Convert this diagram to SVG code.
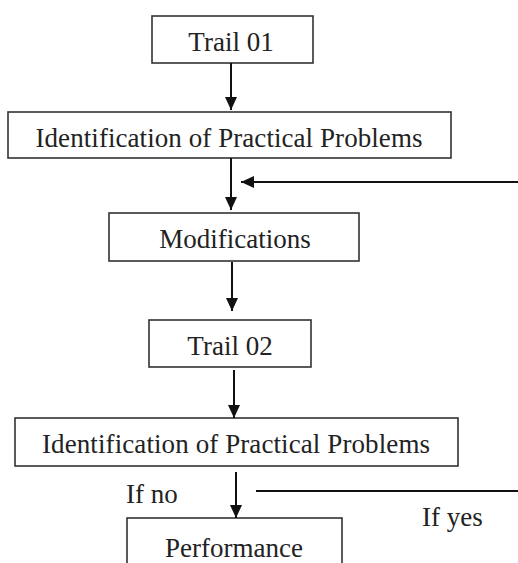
<svg xmlns="http://www.w3.org/2000/svg" width="518" height="563" viewBox="0 0 518 563">
<defs>
<style>
.box{fill:#fff;stroke:#333;stroke-width:1.6}
.t{font-family:"Liberation Serif","Times New Roman",serif;font-size:27px;fill:#222;text-anchor:middle}
.l{font-family:"Liberation Serif","Times New Roman",serif;font-size:27px;fill:#222}
.c{stroke:#111;stroke-width:2;fill:none}
</style>
<marker id="ah" markerUnits="userSpaceOnUse" markerWidth="14" markerHeight="14" viewBox="0 0 14 14" refX="13" refY="7" orient="auto">
<path d="M0,1 L13,7 L0,13 Z" fill="#111"/>
</marker>
</defs>
<rect width="518" height="563" fill="#fff"/>
<g id="trail01"><rect class="box" x="152" y="16" width="161" height="47"/><text class="t" x="231" y="51">Trail 01</text></g>
<g id="identify1"><rect class="box" x="8" y="112" width="443" height="46"/><text class="t" x="229" y="147" textLength="387">Identification of Practical Problems</text></g>
<g id="modifications"><rect class="box" x="109" y="213" width="250" height="48"/><text class="t" x="235" y="248">Modifications</text></g>
<g id="trail02"><rect class="box" x="149" y="320" width="162" height="47"/><text class="t" x="230" y="355">Trail 02</text></g>
<g id="identify2"><rect class="box" x="15" y="418" width="443" height="48"/><text class="t" x="236" y="453" textLength="388">Identification of Practical Problems</text></g>
<g id="performance"><rect class="box" x="127" y="518" width="215" height="60"/><text class="t" x="234" y="557">Performance</text></g>
<g id="connectors">
<line class="c" x1="231" y1="63" x2="231" y2="110" marker-end="url(#ah)"/>
<line class="c" x1="231" y1="158" x2="231" y2="210" marker-end="url(#ah)"/>
<line class="c" x1="518" y1="182" x2="241" y2="182" marker-end="url(#ah)"/>
<line class="c" x1="232" y1="262" x2="232" y2="311" marker-end="url(#ah)"/>
<line class="c" x1="234" y1="370" x2="234" y2="418" marker-end="url(#ah)"/>
<line class="c" x1="236" y1="472" x2="236" y2="518" marker-end="url(#ah)"/>
<line class="c" x1="256" y1="491" x2="518" y2="491"/>
<text class="l" x="126" y="503">If no</text>
<text class="l" x="422" y="526">If yes</text>
</g>
</svg>
